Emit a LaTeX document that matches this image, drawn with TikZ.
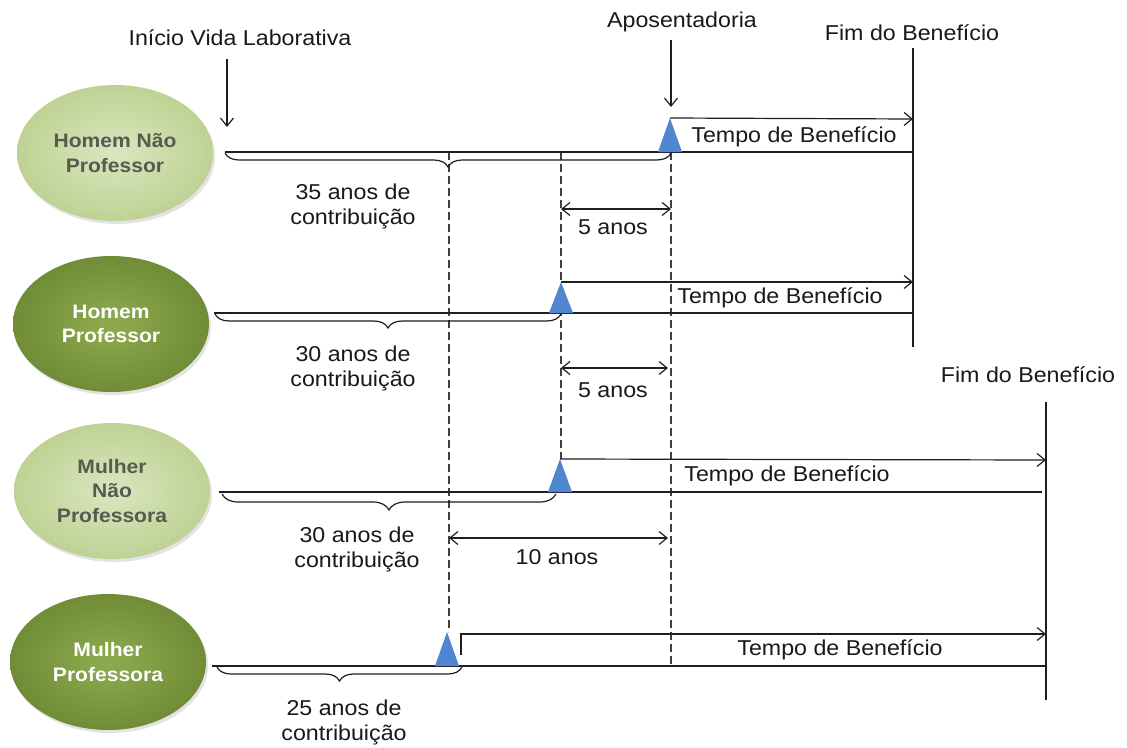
\documentclass[tikz,border=0pt]{standalone}
\usepackage{fontspec}
\setmainfont{Liberation Sans}[FakeStretch=1.08]
\usetikzlibrary{arrows.meta,decorations.pathreplacing,shapes.geometric,shadows,calc}
\definecolor{lightg}{RGB}{190,210,148}
\definecolor{lightgin}{RGB}{218,230,192}
\definecolor{darkg}{RGB}{112,140,55}
\definecolor{darkgin}{RGB}{142,172,78}
\definecolor{tri}{RGB}{79,134,207}
\definecolor{ltext}{RGB}{89,89,80}
\definecolor{lc}{RGB}{30,30,30}
\begin{document}
\begin{tikzpicture}[x=1pt,y=-1pt,
  ln/.style={draw=lc,line width=1.2pt},
  dsh/.style={ln,draw=lc!85,dash pattern=on 8pt off 4pt},
  tipb/.tip={Straight Barb[length=8pt,width=13pt,line width=1.2pt]},
  arr/.style={ln,-tipb},
  darr/.style={ln,tipb-tipb},
  lbl/.style={font=\fontsize{21.5}{25}\selectfont,text=black!90,inner sep=0pt,align=center},
  ell/.style={ellipse,minimum width=196pt,minimum height=136pt,inner sep=0pt,align=center,
    font=\bfseries\fontsize{19.5}{24.5}\selectfont,
    drop shadow={opacity=0.22,shadow xshift=2pt,shadow yshift=-3pt}},
  lell/.style={ell,inner color=lightgin,outer color=lightg,text=ltext},
  dell/.style={ell,inner color=darkgin,outer color=darkg,text=white},
  brc/.style={ln,decorate,decoration={brace,mirror,amplitude=14pt,raise=1pt}},
  trif/.style={fill=tri,draw=none}
]
\fill[white] (0,0) rectangle (1127,747);
\useasboundingbox (0,0) rectangle (1127,747);

% ellipses
\node[lell] (e1) at (115,153) {Homem Não\\Professor};
\node[dell] (e2) at (111,324) {Homem\\Professor};
\node[lell] (e3) at (112,491) {Mulher\\Não\\Professora};
\node[dell] (e4) at (108,662) {Mulher\\Professora};

% top labels
\node[lbl] (inicio) at (240,38) {Início Vida Laborativa};
\node[lbl] (apos) at (682,22) {Aposentadoria};
\node[lbl] (fim1) at (912,33) {Fim do Benefício};
\node[lbl] (fim2) at (1028,375) {Fim do Benefício};

% key coordinates
\coordinate (i0) at (227,59);   \coordinate (i1) at (227,127);
\coordinate (a0) at (671,40);   \coordinate (a1) at (671,107);
\coordinate (f1t) at (913,48);  \coordinate (f1b) at (913,347);
\coordinate (f2t) at (1046,402); \coordinate (f2b) at (1046,700);

\coordinate (l1s) at (225,152); \coordinate (l1e) at (913,152);
\coordinate (l2s) at (214,313); \coordinate (l2e) at (912,313);
\coordinate (l3s) at (219,492); \coordinate (l3e) at (1042,492);
\coordinate (l4s) at (212,666); \coordinate (l4e) at (1045,666);

\coordinate (r1) at (670,152); \coordinate (t1) at (670,118);
\coordinate (r2) at (561,313); \coordinate (t2) at (561,282);
\coordinate (r3) at (560,492); \coordinate (t3) at (560,459);
\coordinate (r4) at (447,666); \coordinate (t4) at (447,632);

\coordinate (b1e) at (671,152);
\coordinate (b2s) at (215,313); \coordinate (b2e) at (561,313);
\coordinate (b3s) at (222,492); \coordinate (b3e) at (556,492);
\coordinate (b4s) at (217,666); \coordinate (b4e) at (462,666);

% dashed guides
\coordinate (d1t) at (449,152); \coordinate (d1b) at (449,632);
\coordinate (d2t) at (561,152); \coordinate (d2b) at (561,459);
\coordinate (d3t) at (671,152); \coordinate (d3b) at (671,666);
\draw[dsh] (d1t) -- (d1b);
\draw[dsh] (d2t) -- (d2b);
\draw[dsh] (d3t) -- (d3b);

% arrows from labels
\draw[arr] (i0) -- (i1);
\draw[arr] (a0) -- (a1);

% end of benefit lines
\draw[ln] (f1t) -- (f1b);
\draw[ln] (f2t) -- (f2b);

% main timelines
\draw[ln] (l1s) -- (l1e);
\draw[ln] (l2s) -- (l2e);
\draw[ln] (l3s) -- (l3e);
\draw[ln] (l4s) -- (l4e);

% braces
\draw[brc] (l1s) -- (b1e);
\draw[brc] (b2s) -- (b2e);
\draw[brc,decoration={brace,mirror,amplitude=16pt,raise=2pt}] (b3s) -- (b3e);
\draw[brc] (b4s) -- (b4e);

% benefit arrows
\coordinate (g1) at (913,119);
\coordinate (g2) at (913,282);
\coordinate (g3) at (1046,460);
\coordinate (g4) at (1046,634);
\coordinate (h4) at (461,655);
\draw[arr] (t1) -- (g1);
\draw[arr] (t2) -- (g2);
\draw[arr] (t3) -- (g3);
\draw[arr] (h4) |- (g4);

% triangles
\fill[trif] ($(r1)+(-12,0)$) -- (t1) -- ($(r1)+(12,0)$) -- cycle;
\fill[trif] ($(r2)+(-12,0)$) -- (t2) -- ($(r2)+(12,0)$) -- cycle;
\fill[trif] ($(r3)+(-12,0)$) -- (t3) -- ($(r3)+(12,0)$) -- cycle;
\fill[trif] ($(r4)+(-12,0)$) -- (t4) -- ($(r4)+(12,0)$) -- cycle;

% interval arrows
\coordinate (p1a) at (561,209); \coordinate (p1b) at (671,209);
\coordinate (p2a) at (561,368); \coordinate (p2b) at (668,368);
\coordinate (p3a) at (449,538); \coordinate (p3b) at (668,538);
\draw[darr] (p1a) -- (p1b);
\draw[darr] (p2a) -- (p2b);
\draw[darr] (p3a) -- (p3b);

% labels
\node[lbl] (c1) at (353,206) {35 anos de\\contribuição};
\node[lbl] (c2) at (353,368) {30 anos de\\contribuição};
\node[lbl] (c3) at (357,549) {30 anos de\\contribuição};
\node[lbl] (c4) at (344,722) {25 anos de\\contribuição};
\node[lbl] (y1) at (613,227) {5 anos};
\node[lbl] (y2) at (613,390) {5 anos};
\node[lbl] (y3) at (557,557) {10 anos};
\node[lbl] (tb1) at (794,137) {Tempo de Benefício};
\node[lbl] (tb2) at (780,298) {Tempo de Benefício};
\node[lbl] (tb3) at (787,476) {Tempo de Benefício};
\node[lbl] (tb4) at (840,650) {Tempo de Benefício};
\end{tikzpicture}
\end{document}
